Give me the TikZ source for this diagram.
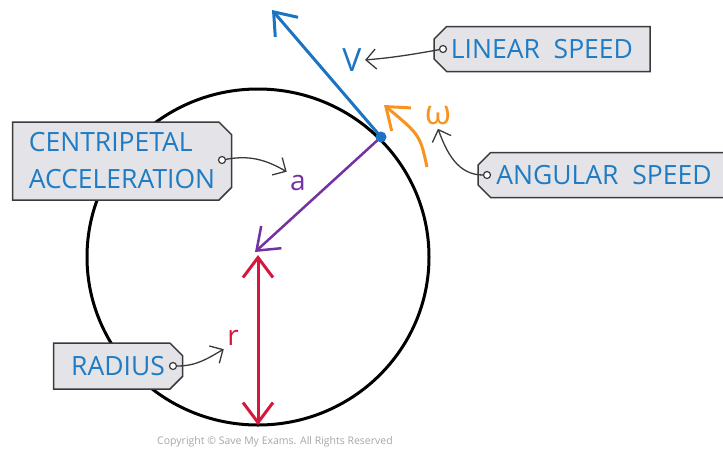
\documentclass[tikz,border=0pt]{standalone}
\usepackage{fontspec}
\setmainfont{Open Sans}
\usetikzlibrary{arrows.meta,shapes.misc}

\definecolor{tagblue}{HTML}{1E7BC4}
\definecolor{velblue}{HTML}{1B74C2}
\definecolor{accpurple}{HTML}{7431A3}
\definecolor{radred}{HTML}{D5173D}
\definecolor{omegaorange}{HTML}{F7931E}
\definecolor{tagfill}{HTML}{E4E4E8}
\definecolor{tagline}{HTML}{3A3A3A}

\tikzset{
  tag/.style={chamfered rectangle, chamfered rectangle xsep=9pt,
    draw=tagline, line width=1.5pt, fill=tagfill, text=tagblue,
    font=\fontsize{26.5}{37}\selectfont, align=left, inner sep=0pt},
  hole/.style={circle, draw=tagline, fill=white, line width=1.2pt,
    minimum size=7pt, inner sep=0pt},
  pointer/.style={line width=1.3pt, tagline, -{Straight Barb[length=10pt,width=20pt]}},
  bigtip/.style={-{Straight Barb[length=20pt,width=30pt]}},
}

\begin{document}
\begin{tikzpicture}[x=1pt,y=-1pt]
    \useasboundingbox (0,0) rectangle (723,451);

    % the circle
    \draw[line width=3pt] (258,257) ellipse [x radius=171, y radius=168];

    \coordinate (P) at (381,137);
    \coordinate (C) at (255,252);
    \coordinate (Ctop) at (258,255);
    \coordinate (Cbot) at (258,425);
    \coordinate (Vend) at (272,10);

    % vectors
    \draw[velblue, line width=3pt, bigtip] (P) -- (Vend);
    \draw[accpurple, line width=2.5pt, bigtip] (P) -- (C);
    \draw[radred, line width=3pt, {Straight Barb[length=20pt,width=30pt]}-{Straight Barb[length=20pt,width=30pt]}] (Ctop) -- (Cbot);
    \draw[omegaorange, line width=3pt, bigtip] (427,167) .. controls (420,135) .. (384,105);
    \fill[velblue] (P) circle (5.5pt);

    % symbols
    \node (vlab) [text=velblue, font=\fontsize{32}{32}\selectfont] at (352,60) {V};
    \node (wlab) [text=omegaorange, font=\fontsize{34}{34}\selectfont] at (438,116) {ω};
    \node (alab) [text=accpurple, font=\fontsize{28}{28}\selectfont] at (298,183) {a};
    \node (rlab) [text=radred, font=\fontsize{28}{28}\selectfont] at (233,338) {r};

    % tags
    \node (linear) [tag, chamfered rectangle corners={north west,south west},
      minimum width=216pt, minimum height=45pt] at (542,49) {LINEAR\ \ SPEED};
    \node (angular) [tag, chamfered rectangle corners={north west,south west},
      minimum width=252pt, minimum height=45pt] at (604,175) {ANGULAR\ \ SPEED};
    \node (centri) [tag, chamfered rectangle corners={north east,south east},
      minimum width=219pt, minimum height=78pt] at (122,161) {CENTRIPETAL\\ACCELERATION};
    \node (radius) [tag, chamfered rectangle corners={north east,south east},
      minimum width=129pt, minimum height=46pt] at (118,366) {RADIUS};

    \node (linhole) [hole] at (443,49) {};
    \node (anghole) [hole] at (487,175) {};
    \node (cenhole) [hole] at (222,160) {};
    \node (radhole) [hole] at (173,366) {};

    % pointers
    \draw[pointer] (linhole) to[out=190,in=5] (vlab.east);
    \draw[pointer] (anghole) to[out=180,in=-70] (wlab.south);
    \draw[pointer] (cenhole) to[out=10,in=150] (alab.north west);
    \draw[pointer] (radhole) to[out=0,in=210] (rlab.south west);

    \node (copy) [text=gray!70, font=\fontsize{10.5}{10.5}\selectfont] at (275,442)
      {Copyright © Save My Exams. All Rights Reserved};
\end{tikzpicture}
\end{document}
